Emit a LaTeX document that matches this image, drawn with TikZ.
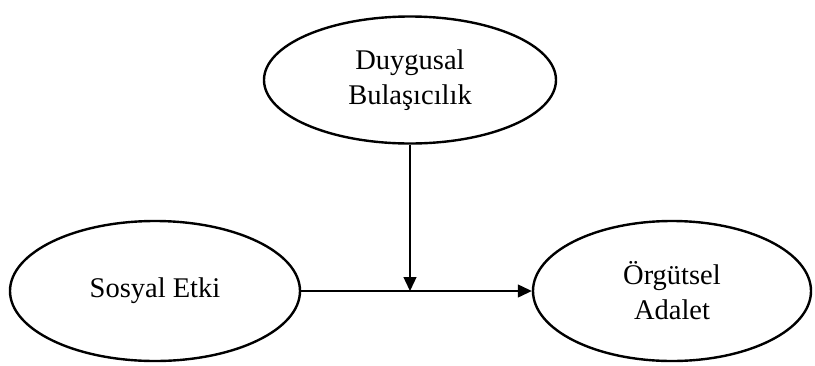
\documentclass[tikz,border=0pt]{standalone}
\usepackage{fontspec}
\setmainfont{Liberation Serif}
\usetikzlibrary{shapes.geometric,arrows.meta}
\begin{document}
\begin{tikzpicture}[x=1pt,y=-1pt,
  oval/.style={ellipse,draw,line width=2.4pt,inner sep=0pt,align=center,
    font=\fontsize{28.5}{35}\selectfont},
  conn/.style={line width=1.3pt,-{Triangle[length=14pt,width=13pt]}}]
\useasboundingbox (0,0) rectangle (815,365);
\node[oval,minimum width=292pt,minimum height=127pt] (db) at (410,80) {Duygusal\\Bulaşıcılık};
\node[oval,minimum width=290pt,minimum height=140pt] (se) at (155,291) {Sosyal Etki};
\node[oval,minimum width=278pt,minimum height=140pt] (oa) at (672,291) {Örgütsel\\Adalet};
\draw[conn] (se.east) -- (oa.west);
\coordinate (m) at (db.south |- se.east);
\draw[conn] (db.south) -- (m);
\end{tikzpicture}
\end{document}
